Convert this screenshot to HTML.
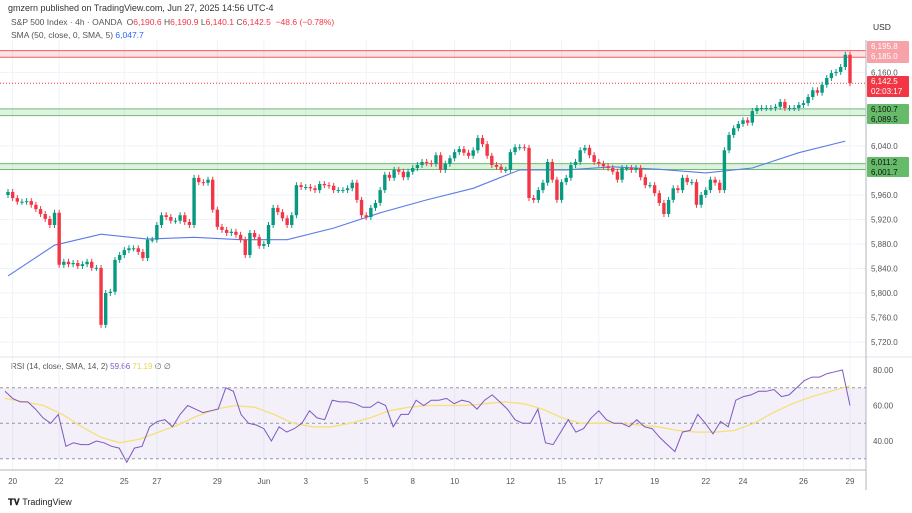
<!DOCTYPE html>
<html><head><meta charset="utf-8">
<style>
body{margin:0;background:#fff;font-family:"Liberation Sans",sans-serif;}
#wrap{position:relative;width:912px;height:513px;overflow:hidden;background:#fff;}
.t{position:absolute;white-space:nowrap;}
</style></head>
<body>
<div id="wrap">
<div class="t" style="left:8px;top:3px;font-size:9px;color:#333">gmzern published on TradingView.com, Jun 27, 2025 14:56 UTC-4</div>
<div class="t" style="left:11px;top:17px;font-size:8.5px;color:#555">S&amp;P 500 Index · 4h · OANDA &nbsp;<span style="color:#555">O</span><span style="color:#f23645">6,190.6</span> <span>H</span><span style="color:#f23645">6,190.9</span> <span>L</span><span style="color:#f23645">6,140.1</span> <span>C</span><span style="color:#f23645">6,142.5 &nbsp;−48.6 (−0.78%)</span></div>
<div class="t" style="left:11px;top:30px;font-size:8.5px;color:#555">SMA (50, close, 0, SMA, 5) <span style="color:#2962ff">6,047.7</span></div>
<div class="t" style="left:11px;top:362px;font-size:8px;color:#555">RSI (14, close, SMA, 14, 2) <span style="color:#7e57c2">59.66</span> <span style="color:#e8d44d">71.19</span> ∅ ∅</div>
<div class="t" style="left:873px;top:22px;font-size:8.5px;color:#333">USD</div>
<div class="t" style="left:8px;top:497px;font-size:9px;color:#222;font-weight:bold">𝐓𝐕 <span style="font-weight:normal">TradingView</span></div>
<svg id="svg" width="912" height="513" style="position:absolute;left:0;top:0"></svg>
</div>
<script>
const closes=[5965,5955,5949,5949,5950,5944,5937,5929,5921,5911,5931,5846,5851,5847,5849,5844,5847,5851,5841,5841,5748,5800,5802,5854,5862,5870,5873,5873,5867,5857,5887,5887,5911,5927,5924,5918,5918,5927,5916,5911,5988,5981,5980,5985,5936,5908,5903,5898,5900,5895,5887,5862,5898,5891,5877,5880,5911,5939,5932,5922,5911,5927,5976,5973,5973,5971,5968,5978,5976,5975,5968,5968,5968,5971,5980,5952,5927,5924,5939,5947,5968,5993,5988,6001,5998,5989,5998,6004,6009,6014,6012,6011,6025,6001,6011,6020,6030,6035,6029,6024,6033,6053,6043,6024,6009,6006,6001,6001,6030,6038,6038,6037,5955,5952,5968,5980,6014,5985,5952,5981,5988,6009,6014,6033,6037,6025,6014,6011,6007,6004,5998,5985,6004,6004,6001,6004,5989,5976,5976,5963,5947,5929,5952,5971,5968,5988,5981,5981,5944,5960,5968,5985,5980,5968,6033,6058,6069,6076,6082,6078,6097,6102,6102,6102,6102,6104,6112,6102,6102,6102,6107,6110,6120,6131,6127,6140,6151,6159,6161,6169,6189,6142.5];
const firstOpen=5960;
const smaVals=[5828,5878,5896,5888,5891,5887,5887,5906,5931,5952,5971,6001,6001,6006,6002,5996,6004,6029,6048];
const rsiVals=[68,64,62,62,58,53,50,55,37,39,38,38,40,39,37,36,28,36,37,48,51,52,48,55,60,58,56,57,58,70,68,55,50,49,47,40,48,45,47,50,57,53,52,63,62,62,61,59,59,62,60,48,55,55,63,60,63,63,64,61,63,62,58,63,66,62,58,52,50,50,58,39,38,45,52,45,47,53,57,52,50,50,48,52,48,47,42,38,34,45,46,55,50,44,51,48,63,65,66,68,68,69,65,66,70,74,76,76,78,79,80,60];
const rsiMaVals=[64,62,60,55,48,42,39,41,45,49,54,58,60,59,55,50,48,48,50,53,57,59,60,60,60,61,62,61,58,53,50,50,50,49,48,46,45,45,46,50,56,61,65,68,71];
const priceTicks=[6160,6040,5960,5920,5880,5840,5800,5760,5720];
const rsiTicks=[80,60,40];
const dateLabels=["20","22","25","27","29","Jun","3","5","8","10","12","15","17","19","22","24","26","29"];
const dateIdx=[1,11,25,32,45,55,64,77,87,96,108,119,127,139,150,158,171,181];
const zones=[[6185,6195.8,"r"],[6089.5,6100.7,"g"],[6001.7,6011.2,"g"]];

const svg=document.getElementById('svg');const NS="http://www.w3.org/2000/svg";
function mk(t,a,p){const e=document.createElementNS(NS,t);for(const k in a)e.setAttribute(k,a[k]);(p||svg).appendChild(e);return e;}
const X0=8,X1=850,N=closes.length;
const xi=i=>X0+i*(X1-X0)/(N-1);
const yP=p=>342-(p-5720)*0.6125;
const yR=v=>370+(80-v)*1.775;
// grid
dateIdx.forEach(i=>{const g=mk('line',{x1:xi(i),x2:xi(i),y1:40,y2:470,stroke:'#f0f3fa'});});
priceTicks.forEach(p=>{const g=mk('line',{x1:0,x2:866,y1:yP(p),y2:yP(p),stroke:'#f0f3fa'});});
// zones
zones.forEach(z=>{const c=z[2]=="r"?'#f23645':'#4caf50';const y1=yP(z[1]),y2=yP(z[0]);
const r=mk('rect',{x:0,y:y1,width:866,height:y2-y1,fill:z[2]=="r"?'rgba(242,54,69,0.15)':'rgba(76,175,80,0.18)'});
mk('line',{x1:0,x2:866,y1:y1,y2:y1,stroke:c,'stroke-width':1,opacity:.8});mk('line',{x1:0,x2:866,y1:y2,y2:y2,stroke:c,'stroke-width':1,opacity:.8});});
// last price dotted
const lp=mk('line',{x1:0,x2:866,y1:yP(closes[N-1]),y2:yP(closes[N-1]),stroke:'#f23645','stroke-dasharray':'1,2'});
// SMA
let d='';smaVals.forEach((v,k)=>{const i=Math.min(k*10,N-1);d+=(k?'L':'M')+xi(i).toFixed(1)+','+yP(v).toFixed(1);});
const sm=mk('path',{d:d,fill:'none',stroke:'#5b7be8','stroke-width':1.1});
// candles
closes.forEach((c,i)=>{const o=i?closes[i-1]:firstOpen;const up=c>=o;const col=up?'#089981':'#f23645';const x=xi(i);
const yt=yP(Math.max(o,c)),yb=yP(Math.min(o,c));
const w=mk('line',{x1:x,x2:x,y1:yt-3,y2:yb+3,stroke:col,'stroke-width':1});
const b=mk('rect',{x:x-1.7,y:yt,width:3.4,height:Math.max(1,yb-yt),fill:col});});
// pane separators & axis
mk('line',{x1:0,x2:912,y1:357,y2:357,stroke:'#e0e3eb'});
mk('line',{x1:866,x2:866,y1:40,y2:490,stroke:'#b2b5be'});
mk('line',{x1:0,x2:866,y1:470,y2:470,stroke:'#b2b5be'});
// price ticks
priceTicks.forEach(p=>{const t=mk('text',{x:871,y:yP(p)+3,'font-size':8,fill:'#555','font-family':'Liberation Sans'});t.textContent=p.toLocaleString('en-US',{minimumFractionDigits:1});});
// axis badges
function badge(y,h,fill,lines,fc){const r=mk('rect',{x:867,y:y,width:42,height:h,fill:fill,rx:1});
lines.forEach((s,k)=>{const t=mk('text',{x:871,y:y+8+k*10,'font-size':8,fill:fc,'font-family':'Liberation Sans'});t.textContent=s;});}
badge(41,22,'#f7a1a8',['6,195.8','6,185.0'],'#fff');
badge(76,21,'#f23645',['6,142.5','02:03:17'],'#fff');
badge(104,20,'#66bb6a',['6,100.7','6,089.5'],'#111');
badge(157,20,'#66bb6a',['6,011.2','6,001.7'],'#111');
// RSI pane
const bg=mk('rect',{x:0,y:yR(70),width:866,height:yR(30)-yR(70),fill:'rgba(126,87,194,0.09)'});
[70,50,30].forEach(v=>{const l=mk('line',{x1:0,x2:866,y1:yR(v),y2:yR(v),stroke:'#9598a1','stroke-dasharray':'3,3'});});
const rx=(k,n)=>5+k*(850-5)/(n-1);
d='';rsiMaVals.forEach((v,k)=>{d+=(k?'L':'M')+rx(k,rsiMaVals.length).toFixed(1)+','+yR(v).toFixed(1);});
const rm=mk('path',{d:d,fill:'none',stroke:'#f5e07a','stroke-width':1.3});
d='';rsiVals.forEach((v,k)=>{d+=(k?'L':'M')+rx(k,rsiVals.length).toFixed(1)+','+yR(v).toFixed(1);});
const rl=mk('path',{d:d,fill:'none',stroke:'#7e57c2','stroke-width':1});
rsiTicks.forEach(v=>{const t=mk('text',{x:873,y:yR(v)+3,'font-size':8,fill:'#555','font-family':'Liberation Sans'});t.textContent=v.toFixed(2);});
// dates
dateLabels.forEach((s,k)=>{const t=mk('text',{x:xi(dateIdx[k]),y:484,'font-size':8,fill:'#555','text-anchor':'middle','font-family':'Liberation Sans'});t.textContent=s;});
</script>
</body></html>
